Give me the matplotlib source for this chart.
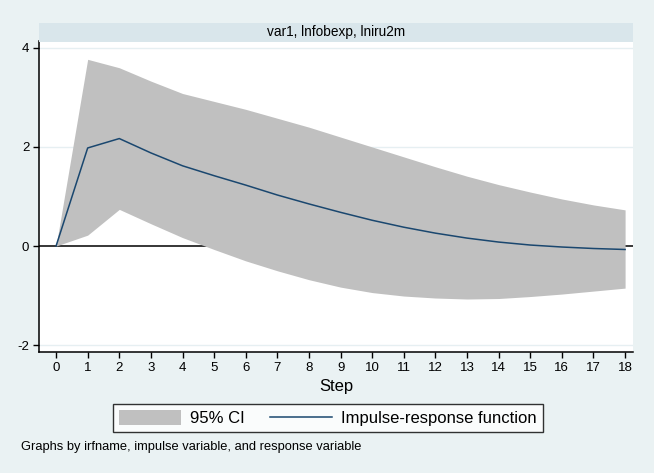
import matplotlib
matplotlib.use("Agg")
from matplotlib import pyplot as plt
from matplotlib.patches import Rectangle, Patch
from matplotlib.lines import Line2D

plt.rcParams['font.family'] = ['Liberation Sans', 'DejaVu Sans']
plt.rcParams['axes.unicode_minus'] = False

# impulse-response of lniru2m to lnfobexp
steps = list(range(19))
irf = [0.0, 1.98, 2.17, 1.88, 1.62, 1.42, 1.23, 1.03, 0.85, 0.68, 0.52,
       0.38, 0.26, 0.16, 0.08, 0.02, -0.02, -0.05, -0.07]
upper = [0.0, 3.77, 3.60, 3.33, 3.08, 2.92, 2.76, 2.58, 2.40, 2.20, 2.00,
         1.80, 1.60, 1.41, 1.24, 1.09, 0.95, 0.83, 0.73]
lower = [0.0, 0.22, 0.74, 0.45, 0.17, -0.07, -0.30, -0.50, -0.68, -0.83, -0.94,
         -1.01, -1.05, -1.07, -1.06, -1.02, -0.97, -0.91, -0.85]
yticks = [-2, 0, 2, 4]
panel_title = "var1, lnfobexp, lniru2m"
note = "Graphs by irfname, impulse variable, and response variable"

bg = "#eaf2f3"
fig = plt.figure(figsize=(6.54, 4.73), dpi=100, facecolor=bg)
ax = fig.add_axes([39/654, 1 - 352/473, 594/654, 311/473])
ax.set_facecolor("white")

ax.set_xlim(-0.54, 18.25)
ax.set_ylim(-2.14, 4.14)

for t in [4, 2, -2]:
    ax.axhline(t, color="#e6eff2", lw=1, zorder=0)
ax.axhline(0, color="black", lw=1.1, zorder=1)

ax.fill_between(steps, lower, upper, color="#c0c0c0", lw=0, zorder=2)
ax.plot(steps, irf, color="#1a476f", lw=1.1, zorder=3)

ax.set_xticks(steps)
ax.set_yticks(yticks)
ax.tick_params(labelsize=9.5, length=4, width=1, color="black", pad=3)
for s in ["top", "right"]:
    ax.spines[s].set_visible(False)
for s in ["left", "bottom"]:
    ax.spines[s].set_linewidth(1.1)
ax.set_xlabel("Step", fontsize=12, labelpad=4)

# strip title
fig.patches.append(Rectangle((39/654, 1 - 42/473), 594/654, 19/473,
                             transform=fig.transFigure, facecolor="#d9e6eb",
                             edgecolor="none"))
fig.text((39 + 297)/654, 1 - 32/473, panel_title, ha="center", va="center",
         fontsize=9.8)

handles = [Patch(facecolor="#c0c0c0", edgecolor="none", label="95% CI"),
           Line2D([], [], color="#1a476f", lw=1.1, label="Impulse-response function")]
leg = fig.legend(handles=handles, loc="center", ncol=2,
                 bbox_to_anchor=(328/654, 1 - 418/473), fontsize=12,
                 frameon=True, fancybox=False, edgecolor="black",
                 handlelength=3.7, handleheight=1.0, handletextpad=0.55,
                 columnspacing=1.55, borderpad=0.35, borderaxespad=0)
leg.get_frame().set_linewidth(1)

fig.text(21/654, 1 - 447/473, note, ha="left", va="center", fontsize=9.3)

fig.savefig("out.png", dpi=100, facecolor=bg)
